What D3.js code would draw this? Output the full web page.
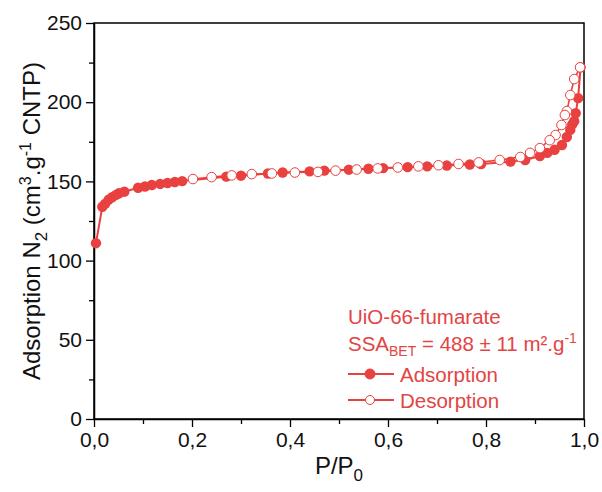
<!DOCTYPE html>
<html><head><meta charset="utf-8">
<script src="https://cdn.jsdelivr.net/npm/d3@7"></script>
<style>body{margin:0;background:#fff}svg{display:block}text{font-family:"Liberation Sans",Arial,sans-serif}</style>
</head><body>
<svg id="chart" width="602" height="492"></svg>
<script>
const adsP = [0.004,0.017,0.023,0.030,0.037,0.045,0.051,0.062,0.090,0.104,0.118,0.135,0.150,0.165,0.180,0.270,0.300,0.355,0.385,0.440,0.470,0.520,0.560,0.590,0.640,0.680,0.720,0.767,0.790,0.850,0.880,0.910,0.925,0.940,0.955,0.965,0.972,0.976,0.980,0.983,0.988,0.993];
const adsV = [111,134,136,138.5,140,141.5,142.5,143.5,146,146.8,147.7,148.4,149,149.6,150.2,153,153.6,155,155.6,156.3,156.8,157.4,158,158.4,159,159.5,160,160.7,161,162.5,163.5,166,168,170,173,178,182.5,186,188,193,202.6,222];
const desP = [0.992,0.980,0.972,0.965,0.961,0.954,0.942,0.930,0.910,0.890,0.870,0.828,0.785,0.744,0.703,0.662,0.620,0.579,0.536,0.493,0.457,0.410,0.363,0.322,0.281,0.240,0.202];
const desV = [222,214.6,204.5,194.4,191.9,185.6,179.3,176,171,168,165.4,163.5,162,161,160.2,159.5,158.8,158.2,157.5,156.8,156,155.6,155,154.6,153.8,152.7,151.5];
const xTicks = [0,0.2,0.4,0.6,0.8,1.0];
const yTicks = [0,50,100,150,200,250];
const red = "#e8413f";

const svg = d3.select("#chart");
const L=94,R=584,T=23,B=419;
const x = d3.scaleLinear().domain([0,1]).range([L,R]);
const y = d3.scaleLinear().domain([0,250]).range([B,T]);
const fmt = d => d3.format(".1f")(d).replace(".", ",");

// minor ticks
svg.append("g").attr("transform",`translate(0,${B})`)
  .call(d3.axisBottom(x).tickValues(d3.range(0.1,1,0.2)).tickSize(5).tickFormat(""))
  .call(g=>g.select(".domain").remove()).selectAll("line").attr("stroke","#000").attr("stroke-width",1.3);
svg.append("g").attr("transform",`translate(${L},0)`)
  .call(d3.axisLeft(y).tickValues(d3.range(25,250,50)).tickSize(5).tickFormat(""))
  .call(g=>g.select(".domain").remove()).selectAll("line").attr("stroke","#000").attr("stroke-width",1.3);

const xa = svg.append("g").attr("transform",`translate(0,${B})`)
  .call(d3.axisBottom(x).tickValues(xTicks).tickSize(8).tickSizeOuter(0).tickFormat(fmt).tickPadding(5));
const ya = svg.append("g").attr("transform",`translate(${L},0)`)
  .call(d3.axisLeft(y).tickValues(yTicks).tickSize(8).tickSizeOuter(0).tickPadding(4));
[xa,ya].forEach(a=>{
  a.selectAll("text").attr("font-size",21).attr("fill","#111").attr("font-family","Liberation Sans, Arial, sans-serif");
  a.selectAll("line").attr("stroke","#000").attr("stroke-width",1.3);
  a.select(".domain").attr("stroke","#000").attr("stroke-width",1.5);
});
// frame
svg.append("rect").attr("x",L).attr("y",T).attr("width",R-L).attr("height",B-T)
  .attr("fill","none").attr("stroke","#000").attr("stroke-width",1.5);

const line = d3.line().x(d=>x(d[0])).y(d=>y(d[1]));
const ads = adsP.map((p,i)=>[p,adsV[i]]);
const des = desP.map((p,i)=>[p,desV[i]]);
svg.append("path").datum(ads).attr("d",line).attr("fill","none").attr("stroke",red).attr("stroke-width",2);
svg.append("g").selectAll("circle").data(ads).join("circle")
  .attr("cx",d=>x(d[0])).attr("cy",d=>y(d[1])).attr("r",5.2).attr("fill",red);
svg.append("path").datum(des).attr("d",line).attr("fill","none").attr("stroke",red).attr("stroke-width",1.6);
svg.append("g").selectAll("circle").data(des).join("circle")
  .attr("cx",d=>x(d[0])).attr("cy",d=>y(d[1])).attr("r",4.8).attr("fill","#fff").attr("stroke",red).attr("stroke-width",1);

// axis titles
svg.append("text").attr("x",(L+R)/2).attr("y",474).attr("text-anchor","middle").attr("font-size",24).attr("fill","#111")
  .html('P/P<tspan font-size="17" dy="7">0</tspan>');
svg.append("text").attr("transform",`translate(40,${(T+B)/2}) rotate(-90)`).attr("text-anchor","middle").attr("font-size",24).attr("fill","#111")
  .html('Adsorption N<tspan font-size="17" dy="7">2</tspan><tspan dy="-7"> (cm</tspan><tspan font-size="16" dy="-9">3</tspan><tspan dy="9">.g</tspan><tspan font-size="16" dy="-9">-1</tspan><tspan dy="9"> CNTP)</tspan>');

// legend
const lc = "#e34444";
svg.append("text").attr("x",348).attr("y",324).attr("font-size",20.5).attr("fill",lc).text("UiO-66-fumarate");
svg.append("text").attr("x",348).attr("y",351).attr("font-size",20.5).attr("fill",lc)
  .html('SSA<tspan font-size="14" dy="5">BET</tspan><tspan dy="-5"> = 488 ± 11 m².g</tspan><tspan font-size="14" dy="-8">-1</tspan>');
const leg = [["Adsorption",374,true],["Desorption",400,false]];
leg.forEach(([t,yy,f])=>{
  svg.append("line").attr("x1",348).attr("x2",394).attr("y1",yy).attr("y2",yy).attr("stroke",red).attr("stroke-width",2);
  svg.append("circle").attr("cx",370).attr("cy",yy).attr("r",f?5:4.5).attr("fill",f?red:"#fff").attr("stroke",red).attr("stroke-width",1);
  svg.append("text").attr("x",400).attr("y",yy+8).attr("font-size",20.5).attr("fill",lc).text(t);
});
</script>
</body></html>
